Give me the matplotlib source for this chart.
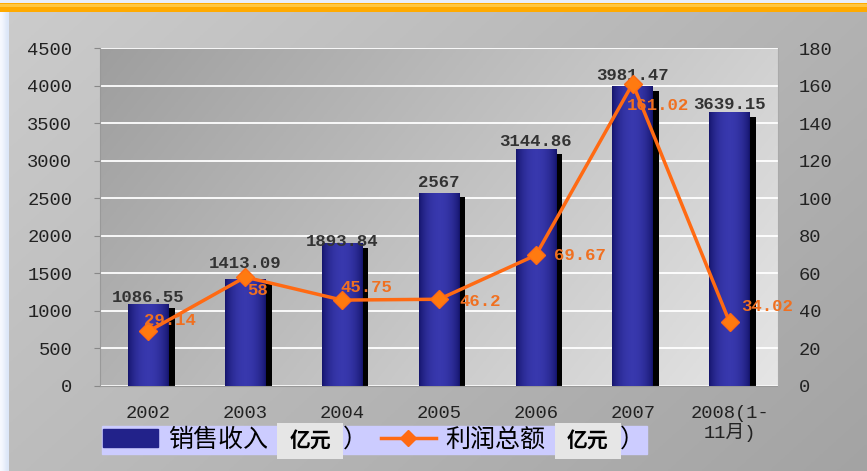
import numpy as np
import matplotlib
matplotlib.use("Agg")
from matplotlib import pyplot as plt
import matplotlib.transforms as mtransforms
from matplotlib.patches import Rectangle, Patch
from matplotlib.lines import Line2D

plt.rcParams['font.family'] = ['Liberation Mono', 'Noto Sans CJK SC', 'DejaVu Sans']

# data
years = ['2002', '2003', '2004', '2005', '2006', '2007', '2008(1-\n11月)']
sales = [1086.55, 1413.09, 1893.84, 2567, 3144.86, 3981.47, 3639.15]
sales_labels = ['1086.55', '1413.09', '1893.84', '2567', '3144.86', '3981.47', '3639.15']
profit = [29.14, 58, 45.75, 46.2, 69.67, 161.02, 34.02]
profit_labels = ['29.14', '58', '45.75', '46.2', '69.67', '161.02', '34.02']

# label offsets in points
sales_offsets = [5, 11.5, 1.5, 8, 6, 8, 6]
profit_offsets = [(-3, 8), (1.5, -10), (-1, 9), (15, -1.5), (13, 0), (-4.5, -16), (8, 11)]

W, H = 867, 471
fig = plt.figure(figsize=(W / 100, H / 100), dpi=100)

# background gradient for whole figure
bg = fig.add_axes([0, 0, 1, 1], zorder=-10)
gx = np.linspace(0, 1, 200)
gy = np.linspace(0, 1, 200)
GX, GY = np.meshgrid(gx, gy)
shade = 0.80 - 0.10 * GX - 0.06 * GY
bg.imshow(np.dstack([shade, shade, shade]), extent=[0, 1, 0, 1], aspect='auto', origin='upper')
# left light strip
bg.imshow(np.array([[[0.97, 0.98, 1.0], [0.86, 0.90, 0.97]]]), extent=[0, 9 / W, 0, 1],
          aspect='auto', interpolation='bicubic')
# top orange band
bg.add_patch(Rectangle((0, 1 - 3 / H), 1, 3 / H, color='#e8eef8', lw=0))
bg.add_patch(Rectangle((0, 1 - 12 / H), 1, 9 / H, color='#ffaa00', lw=0))
bg.add_patch(Rectangle((0, 1 - 7 / H), 1, 3 / H, color='#ffc640', lw=0))
bg.set_xlim(0, 1)
bg.set_ylim(0, 1)
bg.axis('off')

ax = fig.add_axes([100 / W, 1 - 386 / H, 678 / W, 338 / H])
x = np.arange(len(years))

# plot area gradient (darker top-left, lighter right)
PG = 0.62 + 0.20 * GX + 0.08 * GY
ax.imshow(np.dstack([PG, PG, PG]), extent=[-0.5, 6.5, 0, 4500], aspect='auto',
          origin='upper', zorder=0)

ax.set_xlim(-0.5, len(years) - 0.5)
ax.set_ylim(0, 4500)
ax.set_yticks(np.arange(0, 4501, 500))
ax.yaxis.grid(True, color='white', lw=1.3, zorder=1)
ax.set_axisbelow(True)

# shadow bars
shadow = mtransforms.offset_copy(ax.transData, fig=fig, x=6, y=-4, units='dots')
ax.bar(x, sales, width=0.42, color='black', zorder=2, transform=shadow)
bars = ax.bar(x, sales, width=0.42, color='#22228a', zorder=3)

# horizontal gradient on bars
grad = np.linspace(0, 1, 60)
prof = np.sin(grad * np.pi) ** 0.7
rgb = np.zeros((1, 60, 3))
rgb[0, :, 0] = 0.08 + 0.14 * prof
rgb[0, :, 1] = 0.08 + 0.14 * prof
rgb[0, :, 2] = 0.42 + 0.26 * prof
for b in bars:
    ax.imshow(rgb, extent=[b.get_x(), b.get_x() + b.get_width(), 0, b.get_height()],
              aspect='auto', zorder=3.5)
ax.set_xlim(-0.5, len(years) - 0.5)
ax.set_ylim(0, 4500)

for xi, v, lab, off in zip(x, sales, sales_labels, sales_offsets):
    ax.annotate(lab, (xi, v), xytext=(0, off), textcoords='offset points', ha='center',
                va='center', fontsize=12.5, fontweight='bold', color='#333333', zorder=6)

ax.set_xticks(x)
ax.set_xticklabels(years, fontsize=13.5, color='#222222', linespacing=1.05)
for t in ax.get_yticklabels():
    t.set_fontsize(13.5)
    t.set_color('#222222')
ax.tick_params(axis='x', length=0, pad=14)
ax.tick_params(axis='y', length=4, color='#888888', pad=16)
for s in ['top', 'right']:
    ax.spines[s].set_visible(False)
ax.spines['left'].set_color('#999999')
ax.spines['bottom'].set_color('#999999')

ax2 = ax.twinx()
ax2.set_ylim(0, 180)
ax2.set_yticks(np.arange(0, 181, 20))
ax2.plot(x, profit, color='#ff6a13', lw=2.5, marker='D', markersize=9,
         markerfacecolor='#ff7a10', markeredgecolor='#ff6a13', zorder=5)
for xi, v, lab, off in zip(x, profit, profit_labels, profit_offsets):
    ax2.annotate(lab, (xi, v), xytext=off, textcoords='offset points', ha='left',
                 va='center', fontsize=12.5, fontweight='bold', color='#f07020', zorder=6)
ax2.tick_params(axis='y', length=0, pad=15, labelsize=13.5, labelcolor='#222222')
for s in ax2.spines.values():
    s.set_visible(False)
ax2.spines['right'].set_visible(True)
ax2.spines['right'].set_color('#aaaaaa')

# legend
handles = [Patch(facecolor='#22228a', edgecolor='#22228a'),
           Line2D([0], [0], color='#ff6a13', lw=2.5, marker='D', markersize=8)]
leg = fig.legend(handles, ['销售收入（亿元）', '利润总额（亿元）'], loc='lower left',
                 bbox_to_anchor=(102 / W, 1 - 454 / H), ncol=2, frameon=True,
                 fancybox=False, framealpha=1, handlelength=2.2, columnspacing=0.5,
                 borderpad=0.05, handletextpad=0.4, borderaxespad=0,
                 prop={'family': ['Noto Sans CJK SC'], 'size': 18})
leg.get_frame().set_facecolor('#ccccff')
leg.get_frame().set_edgecolor('#ccccff')

# gray boxes covering the unit text in the legend
fig.canvas.draw()
for t in leg.get_texts():
    bb = t.get_window_extent()
    c = bb.width / 8
    x0 = bb.x0 + 4.35 * c
    x1 = bb.x0 + 7.0 * c
    yc = bb.y0 + bb.height * 0.45
    fig.add_artist(Rectangle((x0 / W, (yc - 18) / H), (x1 - x0) / W, 36 / H,
                             transform=fig.transFigure, facecolor='#e6e6e6',
                             edgecolor='none', zorder=9))
    fig.text((x0 + x1) / 2 / W, yc / H, '亿元', ha='center', va='center',
             fontsize=15, fontweight='bold', family=['Noto Sans CJK SC'], color='black',
             zorder=10)

fig.savefig('out.png', dpi=100)
